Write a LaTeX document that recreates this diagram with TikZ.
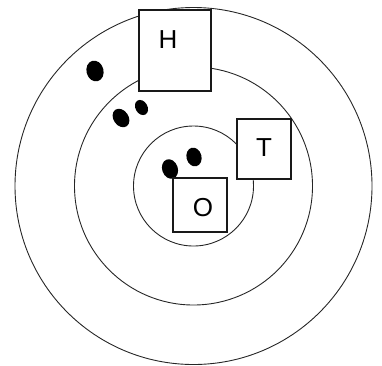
\documentclass[tikz,border=0pt]{standalone}
\usepackage{fontspec}
\setmainfont{Liberation Sans}
\begin{document}
\begin{tikzpicture}[x=1pt,y=-1pt,
  ring/.style={draw=black!85, line width=0.9pt, fill=none},
  letterbox/.style={draw=black!90, line width=1.4pt, fill=white, inner sep=0pt},
  letter/.style={inner sep=0pt, font=\fontsize{26}{30}\selectfont},
  blob/.style={fill=black}]
\useasboundingbox (0,0) rectangle (382,365);
\coordinate (c) at (193.5,186);
\draw[ring] (c) circle [radius=178.5];
\draw[ring] (c) circle [radius=119];
\draw[ring] (c) circle [radius=60];
% blobs
\fill[blob, rotate around={-75:(95,71)}] (95,71) ellipse [x radius=10.5, y radius=8.5];
\fill[blob, rotate around={-55:(121,118)}] (121,118) ellipse [x radius=10, y radius=7.5];
\fill[blob, rotate around={-60:(141.5,107.5)}] (141.5,107.5) ellipse [x radius=8, y radius=6];
\fill[blob, rotate around={-70:(170,169)}] (170,169) ellipse [x radius=10, y radius=7.8];
\fill[blob, rotate around={-75:(194,157)}] (194,157) ellipse [x radius=9.5, y radius=7.5];
% boxes
\node[letterbox, minimum width=72pt, minimum height=81pt] (H) at (175,50.5) {};
\node[letter] (Hl) at (168,40) {H};
\node[letterbox, minimum width=54pt, minimum height=60pt] (T) at (264,149) {};
\node[letter] (Tl) at (264,148) {T};
\node[letterbox, minimum width=54pt, minimum height=54pt] (O) at (200,205) {};
\node[letter] (Ol) at (203,208) {O};
\end{tikzpicture}
\end{document}
